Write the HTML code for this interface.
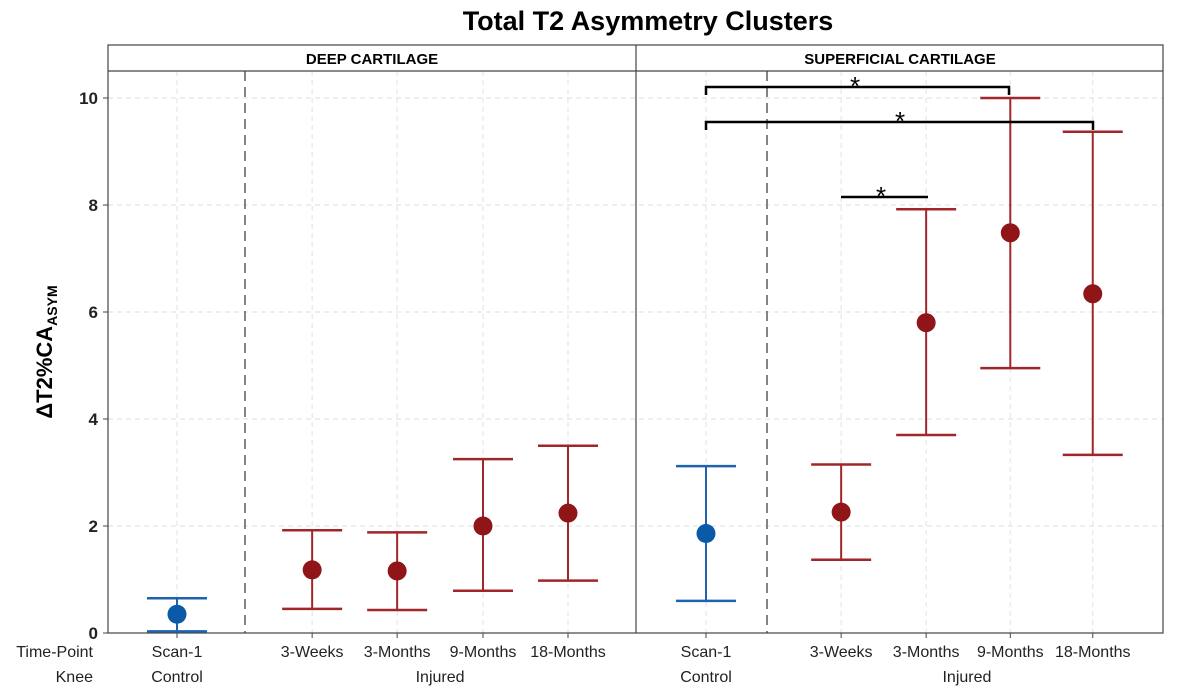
<!DOCTYPE html>
<html><head><meta charset="utf-8"><style>
body{margin:0;background:#fff;}
svg{display:block;font-family:"Liberation Sans",sans-serif;}
</style></head><body>
<svg id="chart" width="1186" height="700" viewBox="0 0 1186 700">
<text x="648" y="30" text-anchor="middle" font-size="27" font-weight="bold" fill="#000">Total T2 Asymmetry Clusters</text>
<g id="grid"></g>
<rect x="108" y="45" width="1055" height="588" fill="none" stroke="#444" stroke-width="1.2"/>
<line x1="108" y1="71" x2="1163" y2="71" stroke="#444" stroke-width="1.2"/>
<line x1="636" y1="45" x2="636" y2="633" stroke="#444" stroke-width="1.2"/>
<text x="372" y="64" text-anchor="middle" font-size="15" font-weight="bold">DEEP CARTILAGE</text>
<text x="900" y="64" text-anchor="middle" font-size="15" font-weight="bold">SUPERFICIAL CARTILAGE</text>
<text transform="translate(52,352) rotate(-90)" text-anchor="middle" font-size="22" font-weight="bold">ΔT2%CA<tspan font-size="14" dy="5">ASYM</tspan></text>
<g id="marks"></g>
<g id="annot"></g>
<g id="xlabels" font-size="16" fill="#222"></g>
</svg>
<script>
const panels = ["Deep", "Superficial"];
const categories = ["Scan-1", "3-Weeks", "3-Months", "9-Months", "18-Months"];
const groups = ["Control", "Injured", "Injured", "Injured", "Injured"];
const deepMean = [0.35, 1.18, 1.16, 2.0, 2.24];
const deepLow = [0.03, 0.45, 0.43, 0.79, 0.98];
const deepHigh = [0.65, 1.92, 1.88, 3.25, 3.5];
const supMean = [1.86, 2.26, 5.8, 7.48, 6.34];
const supLow = [0.6, 1.37, 3.7, 4.95, 3.33];
const supHigh = [3.12, 3.15, 7.92, 10.0, 9.37];
const yTicks = [0, 2, 4, 6, 8, 10];

const NS="http://www.w3.org/2000/svg";
function y(v){return 633 - v*53.5;}
const panelStart=[177,706];
const catPos=[[0,1.59,2.59,3.6,4.6],[0,1.59,2.59,3.58,4.55]];
function x(p,i){return panelStart[p] + catPos[p][i]*85;}
function mk(tag,attrs,parent){const e=document.createElementNS(NS,tag);for(const k in attrs)e.setAttribute(k,attrs[k]);parent.appendChild(e);return e;}
const grid=document.getElementById('grid'), marks=document.getElementById('marks'), xl=document.getElementById('xlabels'), svg=document.getElementById('chart'), an=document.getElementById('annot');
yTicks.forEach(t=>{
  if(t>0){const g=mk('line',{x1:108,x2:1163,y1:y(t),y2:y(t),stroke:'#ddd','stroke-dasharray':'5,4'},grid);
  
  }
  mk('line',{x1:103,x2:108,y1:y(t),y2:y(t),stroke:'#444'},grid);
  const tx=mk('text',{x:98,y:y(t)+6,'text-anchor':'end','font-size':17,'font-weight':'bold',fill:'#222'},svg);
  tx.textContent=t;
  
  
});
const means=[deepMean,supMean], lows=[deepLow,supLow], highs=[deepHigh,supHigh];
panels.forEach((pn,p)=>{
  categories.forEach((c,i)=>{
    const gx=mk('line',{x1:x(p,i),x2:x(p,i),y1:71,y2:633,stroke:'#e2e2e2','stroke-dasharray':'5,4'},grid);
    
    
    const col=i===0?'#1f63b0':'#a0262a', dot=i===0?'#0b5aa8':'#901518';
    const g=mk('g',{},marks);
    
    
    const X=x(p,i);
    mk('line',{x1:X,x2:X,y1:y(highs[p][i]),y2:y(lows[p][i]),stroke:col,'stroke-width':2},g);
    mk('line',{x1:X-30,x2:X+30,y1:y(highs[p][i]),y2:y(highs[p][i]),stroke:col,'stroke-width':2.5},g);
    mk('line',{x1:X-30,x2:X+30,y1:y(lows[p][i]),y2:y(lows[p][i]),stroke:col,'stroke-width':2.5},g);
    const cc=mk('circle',{cx:X,cy:y(means[p][i]),r:9.5,fill:dot},g);
    
    
    const t1=mk('text',{x:X,y:657,'text-anchor':'middle'},xl);
    t1.textContent=c;
    
    
    mk('line',{x1:X,x2:X,y1:633,y2:638,stroke:'#444'},grid);
  });
  const cx=mk('text',{x:x(p,0),y:682,'text-anchor':'middle'},xl);cx.textContent='Control';
  
  
  const ix=mk('text',{x:(x(p,1)+x(p,4))/2,y:682,'text-anchor':'middle'},xl);ix.textContent='Injured';
  
  
  const dl=mk('line',{x1:p===0?245:767,x2:p===0?245:767,y1:71,y2:633,stroke:'#777','stroke-width':1.8,'stroke-dasharray':'10,6'},grid);
  
  
});
const tp=mk('text',{x:93,y:657,'text-anchor':'end'},xl);tp.textContent='Time-Point';


const kn=mk('text',{x:93,y:682,'text-anchor':'end'},xl);kn.textContent='Knee';


function bracket(x1,x2,yy,ticks,sx){
  mk('path',{d:ticks?`M${x1},${yy+8}V${yy}H${x2}V${yy+8}`:`M${x1},${yy}H${x2}`,fill:'none',stroke:'#000','stroke-width':2.5},an);
  const s=mk('text',{x:sx,y:yy+8,'text-anchor':'middle','font-size':26},an);s.textContent='*';
}
bracket(706,1009,87,true,855);
bracket(706,1093,122,true,900);
bracket(841,928,197,false,881);
</script>
</body></html>
